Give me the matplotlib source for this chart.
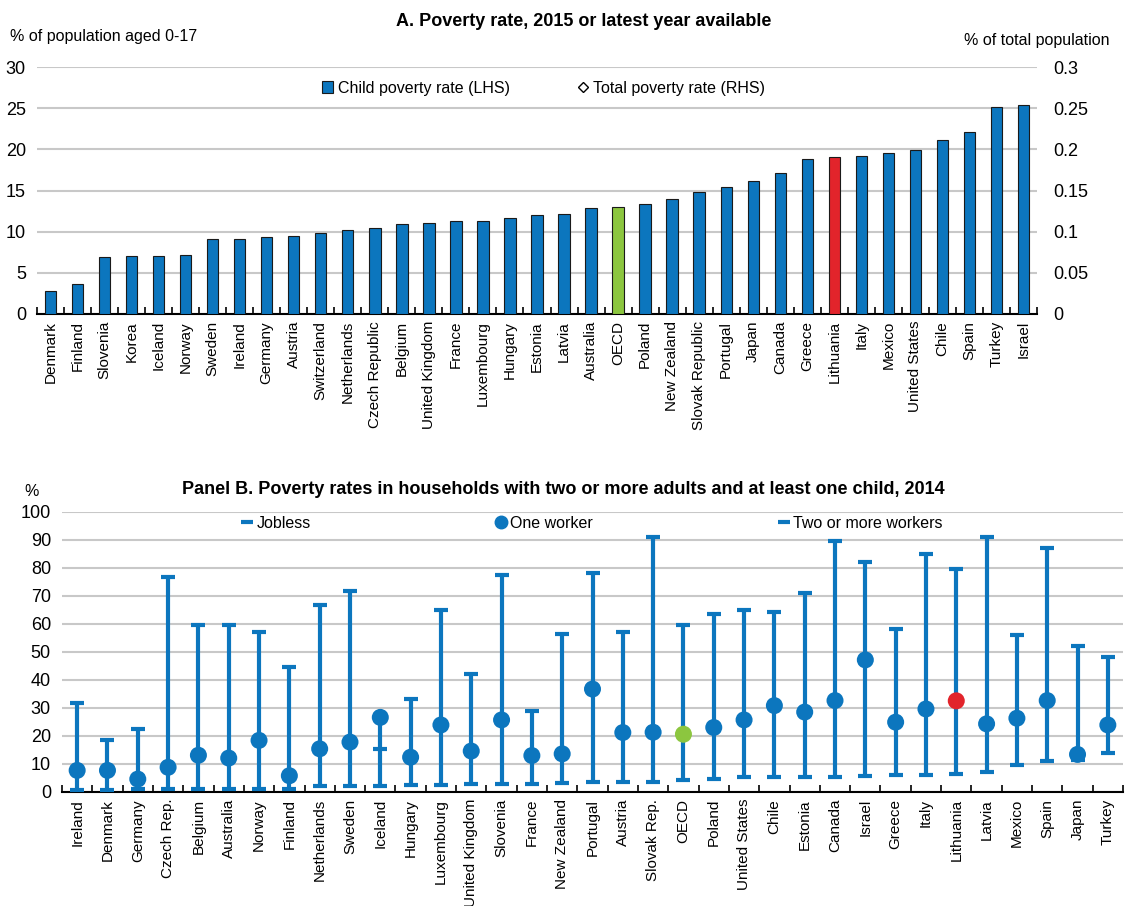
import matplotlib
matplotlib.use("Agg")
import matplotlib.pyplot as plt
from matplotlib.lines import Line2D
from matplotlib.patches import Patch
from matplotlib.legend import Legend
import numpy as np

plt.rcParams['font.family'] = ['Liberation Sans', 'DejaVu Sans']

# Panel A data
countries_a = ['Denmark', 'Finland', 'Slovenia', 'Korea', 'Iceland', 'Norway', 'Sweden',
               'Ireland', 'Germany', 'Austria', 'Switzerland', 'Netherlands', 'Czech Republic',
               'Belgium', 'United Kingdom', 'France', 'Luxembourg', 'Hungary', 'Estonia', 'Latvia',
               'Australia', 'OECD', 'Poland', 'New Zealand', 'Slovak Republic', 'Portugal', 'Japan',
               'Canada', 'Greece', 'Lithuania', 'Italy', 'Mexico', 'United States', 'Chile',
               'Spain', 'Turkey', 'Israel']
child_poverty = [2.8, 3.6, 6.9, 7.0, 7.1, 7.2, 9.1, 9.1, 9.4, 9.5, 9.8, 10.2, 10.4,
                 10.9, 11.1, 11.3, 11.3, 11.7, 12.0, 12.2, 12.9, 13.0, 13.3, 14.0, 14.8, 15.4,
                 16.2, 17.1, 18.8, 19.1, 19.2, 19.6, 19.9, 21.1, 22.1, 25.2, 25.4]
rhs_ticks = [0, 0.05, 0.1, 0.15, 0.2, 0.25, 0.3]
rhs_labels = ['0', '0.05', '0.1', '0.15', '0.2', '0.25', '0.3']

# Panel B data
countries_b = ['Ireland', 'Denmark', 'Germany', 'Czech Rep.', 'Belgium', 'Australia', 'Norway',
               'Finland', 'Netherlands', 'Sweden', 'Iceland', 'Hungary', 'Luxembourg',
               'United Kingdom', 'Slovenia', 'France', 'New Zealand', 'Portugal', 'Austria',
               'Slovak Rep.', 'OECD', 'Poland', 'United States', 'Chile', 'Estonia', 'Canada',
               'Israel', 'Greece', 'Italy', 'Lithuania', 'Latvia', 'Mexico', 'Spain', 'Japan',
               'Turkey']
jobless = [31.9, 18.7, 22.3, 76.5, 59.4, 59.4, 56.9, 44.6, 66.7, 71.7, 15.3, 33.2, 65.0,
           42.1, 77.5, 28.7, 56.4, 78.1, 56.9, 90.8, 59.6, 63.6, 65.0, 64.0, 71.0, 89.4,
           81.9, 58.2, 85.0, 79.5, 90.8, 55.8, 87.0, 52.1, 48.3]
one_worker = [7.7, 7.7, 4.6, 8.8, 13.1, 12.1, 18.4, 5.8, 15.4, 17.8, 26.6, 12.4, 23.9,
              14.6, 25.7, 13.0, 13.6, 36.7, 21.2, 21.3, 20.6, 23.0, 25.7, 30.8, 28.5, 32.6,
              47.1, 24.9, 29.6, 32.5, 24.3, 26.3, 32.6, 13.4, 23.9]
two_workers = [0.6, 0.8, 1.0, 1.2, 1.2, 1.2, 1.2, 1.2, 2.0, 2.0, 2.3, 2.5, 2.5,
               2.7, 2.7, 2.7, 3.1, 3.4, 3.4, 3.7, 4.3, 4.6, 5.2, 5.2, 5.2, 5.5,
               5.7, 6.1, 6.1, 6.4, 7.0, 9.6, 11.2, 11.4, 13.8]

blue = '#0C76BE'
green = '#8CC63F'
red = '#E2242B'
grid_col = '#C8C8C8'
W, H = 1132, 906


def one_legend(axis, handle, label, x, y, size=11.5, hl=0.7):
    # single legend entry, left edge of handle at (x, y) in axes fraction
    leg = Legend(axis, [handle], [label], frameon=False, loc='center left',
                 bbox_to_anchor=(x, y), borderaxespad=0, borderpad=0,
                 fontsize=size, handlelength=hl, handleheight=0.7,
                 handletextpad=0.3)
    axis.add_artist(leg)


fig = plt.figure(figsize=(W / 100, H / 100), dpi=100)

# ---------------- Panel A ----------------
ax = fig.add_axes([37/W, 1-314/H, 1000/W, 247/H])
x = np.arange(len(countries_a))
cols = [blue] * len(countries_a)
cols[countries_a.index('OECD')] = green
cols[countries_a.index('Lithuania')] = red
ax.bar(x, child_poverty, width=0.42, color=cols, edgecolor='#1a1a1a', linewidth=0.8, zorder=3)
ax.set_xlim(-0.5, len(countries_a) - 0.5)
ax.set_ylim(0, 30)
ax.set_yticks(np.arange(0, 31, 5))
ax.yaxis.grid(True, color=grid_col, linewidth=1.5, zorder=0)
ax.set_axisbelow(True)
ax.set_xticks(x)
ax.set_xticklabels(countries_a, rotation=90, fontsize=11)
ax.set_xticks(np.arange(-0.5, len(countries_a), 1), minor=True)
ax.tick_params(axis='x', which='major', length=0, pad=5)
ax.tick_params(axis='x', which='minor', direction='in', length=5, width=1.2)
ax.tick_params(axis='y', length=0, labelsize=13, pad=8)
for s in ['top', 'left', 'right']:
    ax.spines[s].set_visible(False)
ax.spines['bottom'].set_linewidth(1.5)

ax2 = ax.twinx()
ax2.set_ylim(0, 0.3)
ax2.set_yticks(rhs_ticks)
ax2.set_yticklabels(rhs_labels)
ax2.tick_params(axis='y', length=0, labelsize=13, pad=12)
for s in ['top', 'left', 'right', 'bottom']:
    ax2.spines[s].set_visible(False)

one_legend(ax2, Patch(facecolor=blue, edgecolor='#1a1a1a', linewidth=0.8),
           'Child poverty rate (LHS)', (322-37)/1000, (314-88)/247)
one_legend(ax2, Line2D([], [], marker='D', linestyle='none', markerfacecolor='white',
                       markeredgecolor='black', markersize=5),
           'Total poverty rate (RHS)', (577-37)/1000, (314-88)/247)

fig.text(584/W, 1-22/H, 'A. Poverty rate, 2015 or latest year available',
         ha='center', va='center', fontsize=13, fontweight='bold')
fig.text(10/W, 1-36/H, '% of population aged 0-17', ha='left', va='center', fontsize=11.5)
fig.text(1110/W, 1-40/H, '% of total population', ha='right', va='center', fontsize=11.5)

# ---------------- Panel B ----------------
bx = fig.add_axes([62/W, 1-792/H, 1061/W, 280.5/H])
xb = np.arange(len(countries_b))
lo = np.minimum(np.minimum(jobless, one_worker), two_workers)
hi = np.maximum(np.maximum(jobless, one_worker), two_workers)
bx.vlines(xb, lo, hi, color=blue, linewidth=3, zorder=3)
bx.plot(xb, jobless, linestyle='none', marker='_', markersize=10, markeredgewidth=3,
        color=blue, zorder=4)
bx.plot(xb, two_workers, linestyle='none', marker='_', markersize=10, markeredgewidth=3,
        color=blue, zorder=4)
dot_cols = [blue] * len(countries_b)
dot_cols[countries_b.index('OECD')] = green
dot_cols[countries_b.index('Lithuania')] = red
bx.scatter(xb, one_worker, s=150, c=dot_cols, zorder=5, linewidths=0)
bx.set_xlim(-0.5, len(countries_b) - 0.5)
bx.set_ylim(0, 100)
bx.set_yticks(np.arange(0, 101, 10))
bx.yaxis.grid(True, color=grid_col, linewidth=1.5, zorder=0)
bx.set_axisbelow(True)
bx.set_xticks(xb)
bx.set_xticklabels(countries_b, rotation=90, fontsize=11)
bx.set_xticks(np.arange(-0.5, len(countries_b), 1), minor=True)
bx.tick_params(axis='x', which='major', length=0, pad=5)
bx.tick_params(axis='x', which='minor', direction='in', length=5, width=1.2)
bx.tick_params(axis='y', length=0, labelsize=13, pad=8)
for s in ['top', 'left', 'right']:
    bx.spines[s].set_visible(False)
bx.spines['bottom'].set_linewidth(1.5)

dash = Line2D([], [], marker='_', linestyle='none', color=blue, markersize=9, markeredgewidth=3)
dot = Line2D([], [], marker='o', linestyle='none', color=blue, markersize=9)
ly = (792-523)/280.5
one_legend(bx, dash, 'Jobless', (242-62)/1061, ly, hl=0.6)
one_legend(bx, dot, 'One worker', (496-62)/1061, ly, hl=0.6)
one_legend(bx, dash, 'Two or more workers', (779-62)/1061, ly, hl=0.6)

fig.text(563/W, 1-489/H,
         'Panel B. Poverty rates in households with two or more adults and at least one child, 2014',
         ha='center', va='center', fontsize=13, fontweight='bold')
fig.text(24/W, 1-491/H, '%', ha='left', va='center', fontsize=11.5)

fig.savefig('out.png', dpi=100)
